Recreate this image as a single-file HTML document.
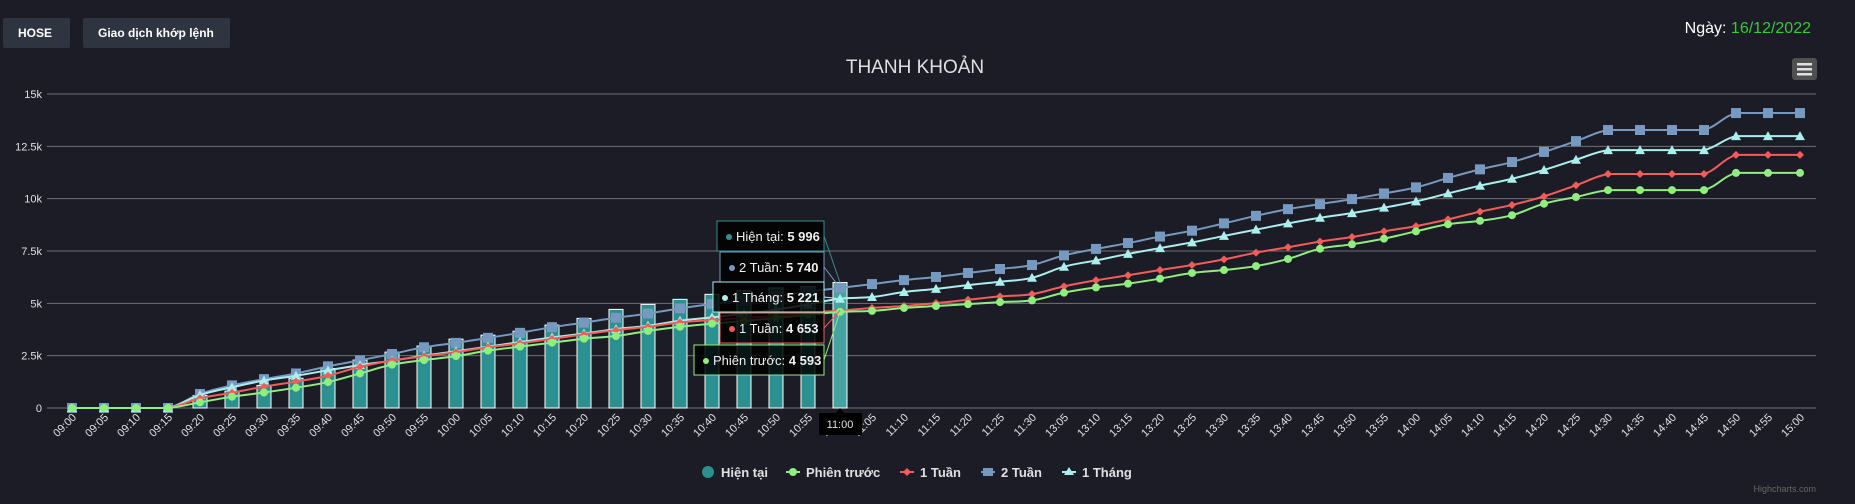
<!DOCTYPE html>
<html><head><meta charset="utf-8"><style>
html,body{margin:0;padding:0;background:#1c1c26;width:1855px;height:504px;overflow:hidden;font-family:"Liberation Sans",sans-serif}
.btn{position:absolute;top:18px;height:30px;background:#2e3440;color:#fff;font-weight:bold;font-size:12px;line-height:30px;border-radius:2px;box-sizing:border-box}
</style></head><body>
<div class="btn" style="left:3px;width:67px;padding-left:15px">HOSE</div>
<div class="btn" style="left:83px;width:147px;padding-left:15px">Giao dịch khớp lệnh</div>
<div style="position:absolute;right:44px;top:20px;font-size:16px;color:#fff">Ngày: <span style="color:#33cc33">16/12/2022</span></div>
<svg id="c" width="1855" height="504" style="position:absolute;left:0;top:0"></svg>
<script>
const categories=["09:00","09:05","09:10","09:15","09:20","09:25","09:30","09:35","09:40","09:45","09:50","09:55","10:00","10:05","10:10","10:15","10:20","10:25","10:30","10:35","10:40","10:45","10:50","10:55","11:00","11:05","11:10","11:15","11:20","11:25","11:30","13:05","13:10","13:15","13:20","13:25","13:30","13:35","13:40","13:45","13:50","13:55","14:00","14:05","14:10","14:15","14:20","14:25","14:30","14:35","14:40","14:45","14:50","14:55","15:00"];
const hienTai=[0,0,0,0,600,810,1080,1420,1890,2290,2670,2960,3290,3480,3670,3960,4280,4710,4950,5190,5430,5600,5730,5800,5996];
const phienTruoc=[0,0,0,0,270,540,740,970,1240,1650,2070,2290,2480,2740,2930,3120,3310,3440,3680,3880,4030,4150,4300,4450,4593,4640,4780,4870,4960,5060,5140,5510,5760,5940,6180,6450,6590,6780,7120,7610,7820,8090,8440,8780,8940,9210,9760,10080,10410,10410,10410,10410,11230,11230,11230];
const motTuan=[0,0,0,0,460,730,1020,1260,1540,1970,2260,2470,2670,2900,3090,3300,3520,3720,3880,4090,4200,4300,4400,4550,4653,4780,4870,5010,5170,5330,5440,5810,6100,6340,6590,6830,7100,7420,7680,7950,8170,8440,8690,9010,9380,9700,10110,10640,11180,11180,11180,11180,12090,12090,12090];
const haiTuan=[0,0,0,0,670,1080,1380,1650,1990,2280,2580,2900,3110,3350,3590,3860,4080,4310,4510,4760,4970,5150,5350,5550,5740,5920,6110,6260,6450,6640,6830,7290,7600,7880,8190,8470,8820,9180,9500,9740,9980,10250,10540,10990,11400,11750,12230,12750,13280,13280,13280,13280,14090,14090,14090];
const motThang=[0,0,0,0,620,990,1310,1540,1800,2050,2260,2500,2710,2930,3150,3370,3560,3770,3930,4170,4330,4500,4700,4950,5221,5300,5540,5690,5870,6030,6220,6750,7050,7360,7640,7910,8220,8520,8820,9090,9310,9570,9870,10250,10620,10950,11370,11860,12320,12320,12320,12320,12990,12990,12990];
const yTicks=[0,2500,5000,7500,10000,12500,15000];
const yTickLabels=["0","2.5k","5k","7.5k","10k","12.5k","15k"];

const NS="http://www.w3.org/2000/svg";const svg=document.getElementById('c');
function el(t,a,p){const e=document.createElementNS(NS,t);for(const k in a)e.setAttribute(k,a[k]);(p||svg).appendChild(e);return e;}
const X=i=>72+i*32, Y=v=>408-v*314/15000;
let t=el('text',{x:915,y:73,'text-anchor':'middle','font-size':19,fill:'#e0e0e3'});t.textContent='THANH KHOẢN';

let m=el('g',{});
el('rect',{x:1792,y:58,width:25,height:22,rx:3,fill:'#505053'},m);
for(let k=0;k<3;k++)el('rect',{x:1797,y:63+k*5,width:15,height:2.5,fill:'#e0e0e0'},m);
yTicks.forEach((v,i)=>{let l=el('line',{x1:47,x2:1816,y1:Y(v),y2:Y(v),stroke:'#707073','stroke-width':1});

let tx=el('text',{x:42,y:Y(v)+4,'text-anchor':'end','font-size':11,fill:'#e0e0e3'});tx.textContent=yTickLabels[i];
});
categories.forEach((c,i)=>{let tx=el('text',{transform:`translate(${X(i)+5},418) rotate(-45)`,'text-anchor':'end','font-size':11,fill:'#e0e0e3'});tx.textContent=c;
});
hienTai.forEach((v,i)=>{let r=el('rect',{x:X(i)-7,y:Y(v),width:14,height:408-Y(v),fill:i==24?'#45a3a2':'#2b908f',stroke:'#fff','stroke-width':1});
});
function spline(pts){let d='M'+pts[0][0]+' '+pts[0][1];const s=1.5,den=s+1;
for(let i=1;i<pts.length;i++){const p0=pts[i-2]||pts[i-1],p1=pts[i-1],p2=pts[i],p3=pts[i+1]||p2;
// control points (Highcharts-like)
let c1x=(s*p1[0]+p2[0])/den,c1y,c2x=(s*p2[0]+p1[0])/den,c2y;
const lt=(p0===p1)?0:(p2[1]-p0[1])/(p2[0]-p0[0]);const nt=(p3===p2)?0:(p3[1]-p1[1])/(p3[0]-p1[0]);
c1y=p1[1]+lt*(c1x-p1[0]);c2y=p2[1]+nt*(c2x-p2[0]);
if(p0===p1)c1y=p1[1];if(p3===p2)c2y=p2[1];
const lo=Math.min(p1[1],p2[1]),hi=Math.max(p1[1],p2[1]);c1y=Math.max(lo,Math.min(hi,c1y));c2y=Math.max(lo,Math.min(hi,c2y));
d+=` C${c1x} ${c1y} ${c2x} ${c2y} ${p2[0]} ${p2[1]}`;}return d;}
function line(arr,col,mk,name){let d=spline(arr.map((v,i)=>[X(i),Y(v)]));
let p=el('path',{d:d,fill:'none',stroke:col,'stroke-width':2});
arr.forEach((v,i)=>{const x=X(i),y=Y(v);let s;
if(mk=='c')s=el('circle',{cx:x,cy:y,r:4,fill:col});
else if(mk=='d')s=el('path',{d:`M${x} ${y-4}L${x+4} ${y}L${x} ${y+4}L${x-4} ${y}Z`,fill:col});
else if(mk=='s')s=el('rect',{x:x-5,y:y-5,width:10,height:10,fill:col});
else s=el('path',{d:`M${x} ${y-5}L${x+5} ${y+4}L${x-5} ${y+4}Z`,fill:col});
});}
line(haiTuan,'#7798BF','s','2-tuan');
line(motThang,'#aaeeee','t','1-thang');
line(motTuan,'#f45b5b','d','1-tuan');
line(phienTruoc,'#90ee7e','c','phien-truoc');
const tips=[["Hiện tại",hienTai[24],'#2b908f',717,221],["2 Tuần",haiTuan[24],'#7798BF',720,252],["1 Tháng",motThang[24],'#aaeeee',713,282],["1 Tuần",motTuan[24],'#f45b5b',720,313],["Phiên trước",phienTruoc[24],'#90ee7e',694,345]];
const fmt=v=>String(v).replace(/\B(?=(\d{3})+(?!\d))/g,' ');
tips.forEach(([n,v,col,x,y])=>{let g=el('g',{});
el('line',{x1:824,y1:y+15,x2:840,y2:Y(v),stroke:col,'stroke-width':1},g);
el('rect',{x:x,y:y,width:824-x,height:30,fill:'rgba(0,0,0,0.85)',stroke:col,'stroke-width':1},g);
el('circle',{cx:x+12,cy:y+16,r:3,fill:col},g);
let tx=el('text',{x:x+19,y:y+20,'font-size':13,fill:'#f0f0f0'},g);tx.innerHTML=n+': <tspan font-weight="bold">'+fmt(v)+'</tspan>';});
let xl=el('g',{});
el('path',{d:'M836 413L840 408L844 413Z',fill:'#000'},xl);
el('rect',{x:819,y:413,width:43,height:22,fill:'#000'},xl);
let xt=el('text',{x:840,y:428,'text-anchor':'middle','font-size':11,fill:'#e0e0e3'},xl);xt.textContent='11:00';
const leg=[["Hiện tại",'#2b908f','c0',708],["Phiên trước",'#90ee7e','c',793],["1 Tuần",'#f45b5b','d',907],["2 Tuần",'#7798BF','s',988],["1 Tháng",'#aaeeee','t',1069]];
leg.forEach(([n,col,mk,x])=>{let g=el('g',{});const y=472;
if(mk=='c0')el('circle',{cx:x,cy:y,r:6,fill:col},g);else{el('line',{x1:x-7,x2:x+7,y1:y,y2:y,stroke:col,'stroke-width':2},g);
if(mk=='c')el('circle',{cx:x,cy:y,r:4,fill:col},g);else if(mk=='d')el('path',{d:`M${x} ${y-4}L${x+4} ${y}L${x} ${y+4}L${x-4} ${y}Z`,fill:col},g);
else if(mk=='s')el('rect',{x:x-5,y:y-4,width:10,height:8,fill:col},g);else el('path',{d:`M${x} ${y-5}L${x+5} ${y+3}L${x-5} ${y+3}Z`,fill:col},g);}
let tx=el('text',{x:x+13,y:y+5,'font-size':13,'font-weight':'bold',fill:'#e0e0e3'},g);tx.textContent=n;});
let cr=el('text',{x:1816,y:492,'text-anchor':'end','font-size':9,fill:'#666'});cr.textContent='Highcharts.com';

</script>
</body></html>
